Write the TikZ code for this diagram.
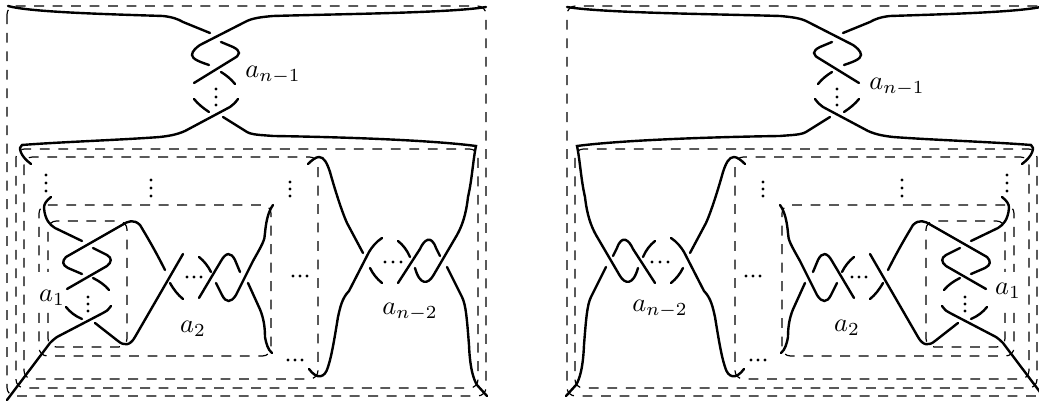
\documentclass[tikz,border=0pt]{standalone}
\tikzset{
  strand/.style={line width=1pt,line cap=round},
  frame/.style={line width=.5pt,dash pattern=on 4.1pt off 3.6pt,rounded corners=3.5pt},
  coeff/.style={inner sep=0pt,anchor=base,scale=1.1}
}
\newcommand{\vdotsat}[3]{\foreach \y in {#2,#3,\the\numexpr#2+#3-#2+#3-#2\relax} \fill (#1,\y) circle (.72pt);}
\newcommand{\hdotsat}[3]{\foreach \x in {#1,#2,\the\numexpr#2+#2-#1\relax} \fill (\x,#3) circle (.72pt);}
\newcommand{\bandsum}{
  %disegno rettangoli tratteggiati
  \draw[frame](7,6)rectangle(486,396);
  \draw[frame](16,149)rectangle(478,388);
  \draw[frame](24,157)rectangle(318,379);
  \draw[frame](39,313)--(39,356)--(271,356)--(271,205)--(39,205)--(39,272);
  \draw[frame](48,313)--(48,347)--(127,347)--(127,221)--(48,221)--(48,272);
  %twist in alto
  \draw[strand](8,6)..controls (30,12)and(100,14)..(163,16)
                    ..controls (172,17)and(178,19)..(183,22)--(210,33);
  \draw[strand](209,65)..controls (200,62)and(192,59)..(192,55)
                       ..controls (192,51)and(197,47)..(200,45)--(245,22)
                       ..controls (252,18)and(262,17)..(273,16)
                       ..controls (340,14)and(450,13)..(486,7);
  \draw[strand](221,42)--(233,47)..controls (237,49)and(239,51)..(239,53)
                       ..controls (239,56)and(236,57)..(233,59)--(194,83);
  \draw[strand](221,72)..controls (226,75)and(231,79)..(235,84);
  \draw[strand](194,99)..controls (198,104)and(203,108)..(209,112);
  \draw[strand](238,99)..controls (235,103)and(233,105)..(230,107)--(185,131)
                       ..controls (176,135)and(168,136)..(160,137)
                       ..controls (120,140)and(60,142)..(22,145)
                       ..controls (18,147)and(20,156)..(31,164);
  \draw[strand](223,117)--(247,132)..controls (252,135)and(262,135)..(273,136)
                       ..controls (340,137)and(430,140)..(476,146)
                       ..controls (473,160)and(472,180)..(468,197)
                       ..controls (466,215)and(462,226)..(457,235)--(433,276)
                       ..controls (428,284)and(420,286)..(415,268);
  %treccia a_{n-2}
  \draw[strand](398,283)--(420,249)..controls (424,240)and(431,234)..(436,248)--(440,256);
  \draw[strand](447,267)--(462,297)..controls (466,305)and(467,320)..(469,345)
                       ..controls (470,370)and(474,380)..(477,385)--(487,396);
  \draw[strand](308,164)..controls (312,160)and(316,157)..(319,157)
                       ..controls (324,157)and(327,163)..(330,172)
                       ..controls (335,190)and(342,212)..(347,223)--(363,253);
  \draw[strand](382,238)..controls (376,242)and(372,247)..(369,252)--(349,291)
                       ..controls (342,298)and(340,308)..(338,317)
                       ..controls (335,335)and(332,355)..(328,367)
                       ..controls (325,378)and(317,380)..(309,369);
  \draw[strand](370,268)..controls (373,274)and(377,279)..(382,283);
  \draw[strand](398,241)..controls (403,245)and(407,250)..(410,257);
  %treccia a_1
  \draw[strand](51,197)..controls (46,201)and(44,204)..(44,208)
                       ..controls (45,220)and(50,225)..(55,228)--(82,241);
  \draw[strand](82,274)--(68,268)..controls (62,265)and(62,261)..(66,257)--(122,225)
                       ..controls (128,221)and(134,219)..(140,225)
                       ..controls (146,235)and(155,250)..(165,270);
  \draw[strand](93,248)--(107,255)..controls (112,258)and(112,262)..(107,266)--(67,289);
  \draw[strand](93,278)..controls (99,281)and(105,285)..(109,290);
  \draw[strand](66,307)..controls (70,312)and(75,316)..(82,319);
  \draw[strand](111,306)..controls (108,310)and(106,312)..(103,313)--(57,337)
                       ..controls (54,339)and(52,341)..(50,343)--(7,400);
  \draw[strand](95,323)--(118,341)..controls (124,346)and(130,346)..(135,337)--(183,254);
  %treccia a_2
  \draw[strand](170,283)..controls (174,290)and(178,295)..(183,299);
  \draw[strand](199,257)..controls (204,261)and(208,266)..(211,272);
  \draw[strand](199,298)--(221,261)..controls (226,252)and(231,252)..(235,260)--(240,272);
  \draw[strand](216,283)--(222,295)..controls (226,303)and(231,303)..(236,295)
                       --(253,261)..controls (262,245)and(265,240)..(265,233)
                       ..controls (266,222)and(268,212)..(273,205);
  \draw[strand](248,283)--(258,305)..controls (263,315)and(265,325)..(265,337)
                       ..controls (266,343)and(268,350)..(272,353);
  %puntini
  \vdotsat{46}{175}{183}
  \vdotsat{151}{180}{188}
  \vdotsat{290}{182}{189}
  \vdotsat{216}{89}{97}
  \vdotsat{88}{297}{304}
  \hdotsat{187}{194}{277}
  \hdotsat{293}{300}{276}
  \hdotsat{288}{295}{360}
  \hdotsat{385}{393}{262}
}
\begin{document}
\begin{tikzpicture}[x=.4167pt,y=-.4167pt]
  \useasboundingbox (0,0) rectangle (1039,405);
  \clip (0,0) rectangle (1039,405);
  %diagramma sinistro
  \bandsum
  %diagramma destro
  \begin{scope}[shift={(1053,0)},xscale=-1]
    \bandsum
  \end{scope}
  %etichette
  \node[coeff](aLa) at (273,78){$a_{n-1}$};
  \node[coeff](aLb) at (52,302){$a_1$};
  \node[coeff](aLc) at (193,333){$a_2$};
  \node[coeff](aLd) at (410,315){$a_{n-2}$};
  \node[coeff](aRa) at (897,90){$a_{n-1}$};
  \node[coeff](aRb) at (1008,295){$a_1$};
  \node[coeff](aRc) at (847,332){$a_2$};
  \node[coeff](aRd) at (660,312){$a_{n-2}$};
\end{tikzpicture}
\end{document}
